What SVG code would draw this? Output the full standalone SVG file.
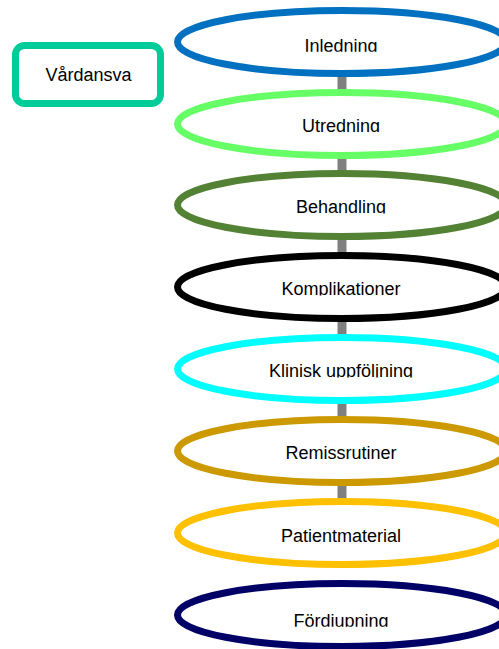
<svg xmlns="http://www.w3.org/2000/svg" width="499" height="649" viewBox="0 0 499 649">
<style>
.n{fill:#fff;stroke-width:7}
.t{font-family:"Liberation Sans",Arial,sans-serif;font-size:18px;fill:#000;text-anchor:middle}
.c{stroke:#808080;stroke-width:9;fill:none}
</style>
<defs>
<clipPath id="k1"><rect x="170" y="0" width="329" height="51.8"/></clipPath>
<clipPath id="k2"><rect x="170" y="90" width="329" height="42"/></clipPath>
<clipPath id="k3"><rect x="170" y="172" width="329" height="41.5"/></clipPath>
<clipPath id="k4"><rect x="170" y="254" width="329" height="41.5"/></clipPath>
<clipPath id="k5"><rect x="170" y="336" width="329" height="41.5"/></clipPath>
<clipPath id="k6"><rect x="170" y="418" width="329" height="42"/></clipPath>
<clipPath id="k7"><rect x="170" y="500" width="329" height="43"/></clipPath>
<clipPath id="k8"><rect x="170" y="582" width="329" height="44.8"/></clipPath>
</defs>
<rect width="499" height="649" fill="#fff"/>
<g id="connectors">
<line class="c" x1="342" y1="42" x2="342" y2="124"/>
<line class="c" x1="342" y1="124" x2="342" y2="205"/>
<line class="c" x1="342" y1="205" x2="342" y2="287"/>
<line class="c" x1="342" y1="287" x2="342" y2="369"/>
<line class="c" x1="342" y1="369" x2="342" y2="451"/>
<line class="c" x1="342" y1="451" x2="342" y2="533"/>
</g>
<g id="vardansvar">
<rect x="15.5" y="45.5" width="145" height="58" rx="9" fill="#fff" stroke="#00CC99" stroke-width="7"/>
<text class="t" x="88.5" y="80.5">Vårdansva</text>
</g>
<g id="inledning">
<ellipse class="n" cx="342" cy="42" rx="164.5" ry="31.5" stroke="#0070C0"/>
<text class="t" x="341" y="51.5" clip-path="url(#k1)">Inledning</text>
</g>
<g id="utredning">
<ellipse class="n" cx="342" cy="124" rx="164.5" ry="31.5" stroke="#66FF66"/>
<text class="t" x="341" y="131.5" clip-path="url(#k2)">Utredning</text>
</g>
<g id="behandling">
<ellipse class="n" cx="342" cy="205" rx="164.5" ry="31.5" stroke="#548235"/>
<text class="t" x="341" y="213" clip-path="url(#k3)">Behandling</text>
</g>
<g id="komplikationer">
<ellipse class="n" cx="342" cy="287" rx="164.5" ry="31.5" stroke="#000000"/>
<text class="t" x="341" y="295" clip-path="url(#k4)">Komplikationer</text>
</g>
<g id="klinisk">
<ellipse class="n" cx="342" cy="369" rx="164.5" ry="31.5" stroke="#00FFFF"/>
<text class="t" x="341" y="377" clip-path="url(#k5)">Klinisk uppföljning</text>
</g>
<g id="remissrutiner">
<ellipse class="n" cx="342" cy="451" rx="164.5" ry="31.5" stroke="#CC9900"/>
<text class="t" x="341" y="459.3" clip-path="url(#k6)">Remissrutiner</text>
</g>
<g id="patientmaterial">
<ellipse class="n" cx="342" cy="533" rx="164.5" ry="31.5" stroke="#FFC000"/>
<text class="t" x="341" y="542.3" clip-path="url(#k7)">Patientmaterial</text>
</g>
<g id="fordjupning">
<ellipse class="n" cx="342" cy="615" rx="164.5" ry="31.5" stroke="#000066"/>
<text class="t" x="341" y="626.5" clip-path="url(#k8)">Fördjupning</text>
</g>
</svg>
